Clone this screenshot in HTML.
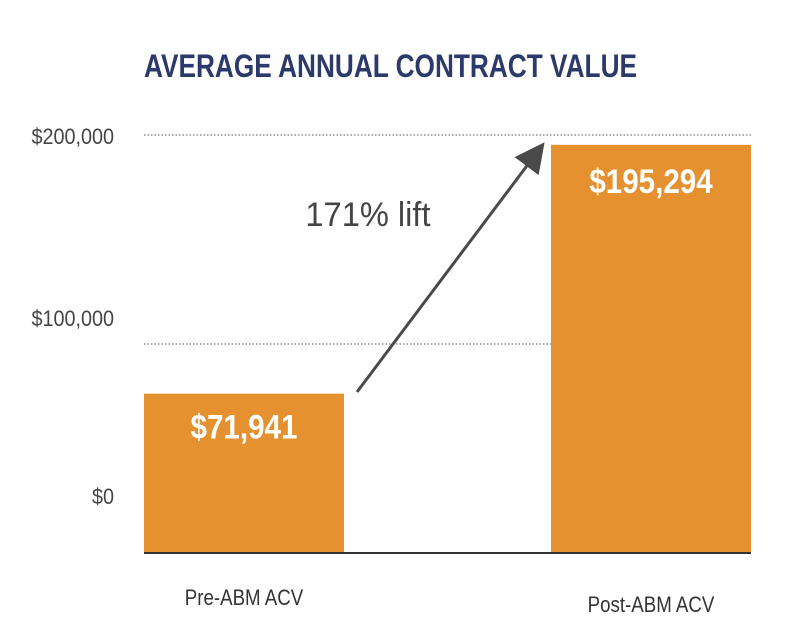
<!DOCTYPE html>
<html><head><meta charset="utf-8"><style>
html,body{margin:0;padding:0;background:#fff;width:796px;height:628px;overflow:hidden}
svg text{font-family:"Liberation Sans",sans-serif}
</style></head><body>
<svg width="796" height="628">
<defs><marker id="ah" markerWidth="10" markerHeight="10" refX="8" refY="5" orient="auto"><path d="M0,0 L10,5 L0,10 z" fill="#4a4a4a"/></marker></defs>
<g id="root"></g>
</svg>
<script>
const categories=["Pre-ABM ACV","Post-ABM ACV"];
const values=[71941,195294];
const valueLabels=["$71,941","$195,294"];
const tickValues=[0,100000,200000];
const tickLabels=["$0","$100,000","$200,000"];
const NS="http://www.w3.org/2000/svg";
const root=document.getElementById('root');
const y0=553,yTop=135,vMax=200000;
function y(v){return y0-(v/vMax)*(y0-yTop);}
const barX=[144,551],barW=200;
function mk(t,a,txt){const e=document.createElementNS(NS,t);for(const k in a)e.setAttribute(k,a[k]);if(txt!=null)e.textContent=txt;root.appendChild(e);return e;}
let t=mk('text',{x:144,y:77,fill:'#2b3a6b','font-size':32,'font-weight':'bold',transform:'translate(144,0) scale(0.82,1) translate(-144,0)'},'AVERAGE ANNUAL CONTRACT VALUE');


const labelOffset=[-49,-18,9];
tickValues.forEach((v,i)=>{
  if(v>0){const g=mk('line',{x1:144,x2:751,y1:y(v),y2:y(v),stroke:'#555','stroke-width':1,'stroke-dasharray':'1.5,2'});
  
  }
  const l=mk('text',{x:114,y:y(v)+labelOffset[i],'text-anchor':'end',fill:'#444','font-size':22,transform:`translate(114,0) scale(0.9,1) translate(-114,0)`},tickLabels[i]);
  
  
});
values.forEach((v,i)=>{
  const b=mk('rect',{x:barX[i],y:y(v)-(i==0?9:0),width:barW,height:y0-y(v)+(i==0?9:0),fill:'#e6912f'});
  
  
  const cx=barX[i]+barW/2;
  const vl=mk('text',{x:cx,y:y(v)+(i==0?36:48),'text-anchor':'middle',fill:'#fff','font-size':34,'font-weight':'bold',transform:`translate(${cx},0) scale(0.87,1) translate(${-cx},0)`},valueLabels[i]);
  
  
  const cl=mk('text',{x:cx,y:i==0?605:612,'text-anchor':'middle',fill:'#333','font-size':22,transform:`translate(${cx},0) scale(0.85,1) translate(${-cx},0)`},categories[i]);
  
  
});
const ax=mk('line',{x1:144,x2:751,y1:y0,y2:y0,stroke:'#333','stroke-width':2});


const ar=mk('line',{x1:357,y1:392,x2:541,y2:147,stroke:'#4a4a4a','stroke-width':3,'marker-end':'url(#ah)'});


const lt=mk('text',{x:368,y:226,'text-anchor':'middle',fill:'#444','font-size':34,transform:'translate(368,0) scale(0.96,1) translate(-368,0)'},'171% lift');


</script>
</body></html>
